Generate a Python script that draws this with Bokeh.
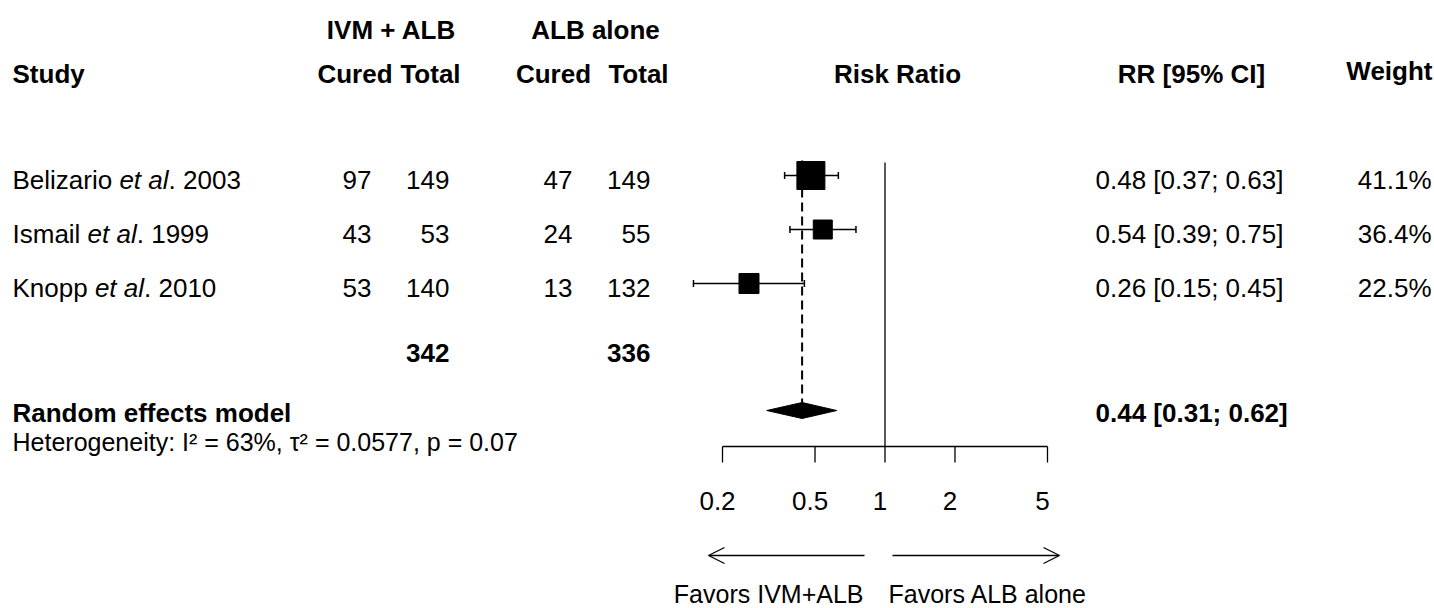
import math
from bokeh.plotting import figure
from bokeh.models import Range1d, LogScale, Arrow, OpenHead
from bokeh.core.properties import value
from bokeh.embed import file_html
from bokeh.resources import INLINE

# ---------------- data ----------------
study_names = ["Belizario", "Ismail", "Knopp"]
study_years = ["2003", "1999", "2010"]
ivm_cured = [97, 43, 53]
ivm_total = [149, 53, 140]
alb_cured = [47, 24, 13]
alb_total = [149, 55, 132]
rr = [0.48, 0.54, 0.26]
rr_lower = [0.37, 0.39, 0.15]
rr_upper = [0.63, 0.75, 0.45]
weights = [41.1, 36.4, 22.5]
pooled_rr = 0.44
pooled_lower = 0.31
pooled_upper = 0.62
heterogeneity = "Heterogeneity: I\u00b2 = 63%, \u03c4\u00b2 = 0.0577, p = 0.07"
tick_values = [0.2, 0.5, 1, 2, 5]
tick_labels = ["0.2", "0.5", "1", "2", "5"]
left_label = "Favors IVM+ALB"
right_label = "Favors ALB alone"

# ---------------- styling / layout ----------------
FONT = value("Liberation Sans")
FS = "26px"
FS_SMALL = "25px"
square_px = [28, 19, 20]

W, H = 1434, 608
p = figure(width=W, height=H, output_backend="svg", toolbar_location=None,
           x_range=Range1d(0, W), y_range=Range1d(H, 0),
           x_axis_location=None, y_axis_location=None, min_border=0)
p.outline_line_color = None
p.xgrid.visible = False
p.ygrid.visible = False

# log scale for the forest part
PX_LO, PX_HI = 722.0, 1047.0
dpp = math.log10(tick_values[-1] / tick_values[0]) / (PX_HI - PX_LO)
rr_start = tick_values[0] * 10 ** (-(PX_LO - 0) * dpp)
rr_end = tick_values[-1] * 10 ** ((W - PX_HI) * dpp)
p.extra_x_ranges = {"rr": Range1d(rr_start, rr_end)}
p.extra_x_scales = {"rr": LogScale()}

n = len(rr)
mark_y = [175 + 54 * i for i in range(n)]
text_y = [y + 4 for y in mark_y]
POOL_Y = 410
TOTAL_Y = 352
AXIS_Y = 446


def txt(x, y, t, align="left", style="normal", size=FS, **kw):
    p.text(x=x, y=y, text=t, text_align=align, text_baseline="middle",
           text_font=FONT, text_font_size=size, text_font_style=style,
           text_color="black", **kw)


# Arial / Liberation Sans advance widths (1/1000 em)
ARIAL = {' ': 278, '.': 278, 'B': 667, 'I': 278, 'K': 667, 'a': 556, 'e': 556,
         'i': 222, 'l': 222, 'm': 833, 'n': 556, 'o': 556, 'p': 556, 'r': 333,
         's': 500, 't': 278, 'z': 500}
for d in "0123456789":
    ARIAL[d] = 556


def tw(s, size=26):
    return sum(ARIAL.get(c, 556) for c in s) / 1000 * size


# ---------------- headers ----------------
txt([391], [29], ["IVM + ALB"], "center", "bold")
txt([595], [29], ["ALB alone"], "center", "bold")
txt([12], [73], ["Study"], "left", "bold")
txt([354.5, 430, 553, 638], [73] * 4, ["Cured", "Total", "Cured", "Total"], "center", "bold")
txt([897], [73], ["Risk Ratio"], "center", "bold")
txt([1191], [73], ["RR [95% CI]"], "center", "bold")
txt([1432], [70], ["Weight"], "right", "bold")

# ---------------- study rows ----------------
X0 = 12
x_name = [X0] * n
x_etal = [X0 + tw(nm + " ") for nm in study_names]
x_year = [xe + tw("et al") for xe in x_etal]
txt(x_name, text_y, study_names, "left")
txt(x_etal, text_y, ["et al"] * n, "left", "italic")
txt(x_year, text_y, [". " + yv for yv in study_years], "left")

txt([371] * n, text_y, [str(v) for v in ivm_cured], "right")
txt([449] * n, text_y, [str(v) for v in ivm_total], "right")
txt([572] * n, text_y, [str(v) for v in alb_cured], "right")
txt([650] * n, text_y, [str(v) for v in alb_total], "right")
txt([449, 650], [TOTAL_Y] * 2, [str(sum(ivm_total)), str(sum(alb_total))], "right", "bold")

txt([1095] * n, text_y, [f"{a:.2f} [{b:.2f}; {c:.2f}]" for a, b, c in zip(rr, rr_lower, rr_upper)], "left")
txt([1431] * n, text_y, [f"{w:.1f}%" for w in weights], "right")

txt([12], [POOL_Y + 2], ["Random effects model"], "left", "bold")
txt([1095], [POOL_Y + 2], [f"{pooled_rr:.2f} [{pooled_lower:.2f}; {pooled_upper:.2f}]"], "left", "bold")
txt([12], [441], [heterogeneity], "left", "normal", FS_SMALL)

# ---------------- forest ----------------
# reference line at 1
p.segment(x0=[1], y0=[162], x1=[1], y1=[AXIS_Y], x_range_name="rr",
          line_color="black", line_width=1.3)
# pooled estimate dashed line
p.segment(x0=[pooled_rr], y0=[160], x1=[pooled_rr], y1=[POOL_Y - 8], x_range_name="rr",
          line_color="black", line_width=2, line_dash="9 5")
# CI whiskers
p.segment(x0=rr_lower, y0=mark_y, x1=rr_upper, y1=mark_y, x_range_name="rr",
          line_color="black", line_width=1.5)
p.segment(x0=rr_lower, y0=[y - 3.5 for y in mark_y], x1=rr_lower, y1=[y + 3.5 for y in mark_y],
          x_range_name="rr", line_color="black", line_width=1.5)
p.segment(x0=rr_upper, y0=[y - 3.5 for y in mark_y], x1=rr_upper, y1=[y + 3.5 for y in mark_y],
          x_range_name="rr", line_color="black", line_width=1.5)
# squares
p.scatter(x=rr, y=mark_y, size=square_px, marker="square", x_range_name="rr",
          fill_color="black", line_color="black")
# diamond
p.patch(x=[pooled_lower, pooled_rr, pooled_upper, pooled_rr],
        y=[POOL_Y, POOL_Y - 8, POOL_Y, POOL_Y + 8], x_range_name="rr",
        fill_color="black", line_color="black")

# axis
p.segment(x0=[tick_values[0]], y0=[AXIS_Y], x1=[tick_values[-1]], y1=[AXIS_Y],
          x_range_name="rr", line_color="black", line_width=1.3)
p.segment(x0=tick_values, y0=[AXIS_Y] * len(tick_values), x1=tick_values,
          y1=[AXIS_Y + 16] * len(tick_values), x_range_name="rr",
          line_color="black", line_width=1.3)
p.text(x=tick_values, y=[500] * len(tick_values), text=tick_labels, x_range_name="rr",
       x_offset=-5, text_align="center", text_baseline="middle", text_font=FONT,
       text_font_size=FS, text_color="black")

# direction arrows
p.add_layout(Arrow(x_start=864, y_start=555, x_end=708, y_end=555,
                   line_width=1.3, end=OpenHead(size=16, line_width=1.3)))
p.add_layout(Arrow(x_start=892, y_start=555, x_end=1059, y_end=555,
                   line_width=1.3, end=OpenHead(size=16, line_width=1.3)))
txt([863], [593], [left_label], "right", "normal", "25px")
txt([888], [593], [right_label], "left", "normal", "25px")

open("out.html", "w").write(file_html(p, INLINE))
